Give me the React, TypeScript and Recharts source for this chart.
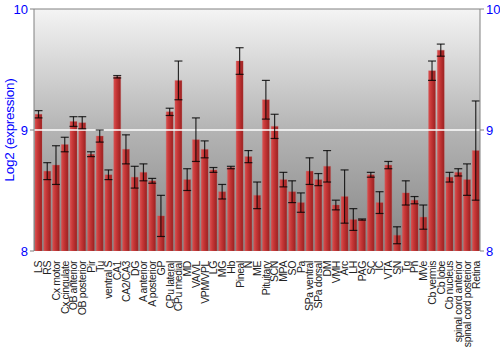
import { BarChart, Bar, XAxis, YAxis, CartesianGrid, ReferenceLine, ErrorBar } from 'recharts';

const regions = [
  'LS', 'RS', 'Cx motor', 'Cx cingulate', 'OB anterior', 'OB posterior', 'Pir', 'Tu', 'ventral S', 'CA1',
  'CA2/CA3', 'DG', 'A anterior', 'A posterior', 'GP', 'CPu lateral', 'CPu medial', 'MD', 'VA/VL', 'VPM/VPL',
  'LG', 'MG', 'Hb', 'Pineal', 'N', 'ME', 'Pituitary', 'SCN', 'MPA', 'SO',
  'Pa', 'SPa ventral', 'SPa dorsal', 'DM', 'VMH', 'Arc', 'LH', 'PAG', 'SC', 'IC',
  'VTA', 'SN', 'Tg', 'Pn', 'MVe', 'Cb vermis', 'Cb lobe', 'Cb nucleus', 'spinal cord anterior', 'spinal cord posterior',
  'Retina',
];

const expression = [
  9.13, 8.66, 8.71, 8.88, 9.07, 9.06, 8.80, 8.95, 8.63, 9.44,
  8.84, 8.61, 8.65, 8.58, 8.29, 9.15, 9.41, 8.59, 8.92, 8.84,
  8.67, 8.49, 8.69, 9.57, 8.78, 8.46, 9.25, 9.03, 8.59, 8.49,
  8.40, 8.66, 8.59, 8.70, 8.38, 8.45, 8.26, 8.26, 8.63, 8.40,
  8.71, 8.13, 8.48, 8.42, 8.28, 9.49, 9.66, 8.61, 8.65, 8.59,
  8.83,
];

const stdErr = [
  0.03, 0.07, 0.16, 0.06, 0.04, 0.05, 0.02, 0.05, 0.04, 0.01,
  0.12, 0.09, 0.07, 0.02, 0.17, 0.03, 0.16, 0.09, 0.18, 0.07,
  0.02, 0.06, 0.01, 0.11, 0.05, 0.11, 0.16, 0.10, 0.06, 0.09,
  0.08, 0.11, 0.05, 0.13, 0.04, 0.22, 0.09, 0.005, 0.02, 0.09,
  0.03, 0.07, 0.10, 0.03, 0.10, 0.08, 0.05, 0.04, 0.03, 0.13,
  0.41,
];

const yTicks = [8, 9, 10];

const data = regions.map((name, i) => ({ name, value: expression[i], err: stdErr[i] }));

const FONT = '"Liberation Sans", Arial, sans-serif';

function RotatedTick(props: any) {
  const { x, y, payload } = props;
  return (
    <text x={x} y={y + 2} transform={`rotate(-90, ${x}, ${y + 2})`} textAnchor="end" dy={4}
      fontSize={10.5} letterSpacing={-0.4} fontFamily={FONT} fill="#222">
      {payload.value}
    </text>
  );
}

function YLabel(props: any) {
  const { viewBox } = props;
  const cy = viewBox.y + viewBox.height / 2;
  return (
    <text x={14} y={cy} transform={`rotate(-90, 14, ${cy})`} textAnchor="middle"
      fontSize={13.5} letterSpacing={-0.3} fontFamily={FONT} fill="#0000ff">
      Log2 (expression)
    </text>
  );
}

export default function App() {
  return (
    <div style={{ position: 'absolute', left: 0, top: 0, background: '#fff' }}>
      <BarChart width={500} height={350} data={data} margin={{ top: 9, right: 0, bottom: 0, left: 0 }}
        barCategoryGap={1}>
        <defs>
          <linearGradient id="bg" x1="0" y1="0" x2="0" y2="1">
            <stop offset="0%" stopColor="#f4f4f4" />
            <stop offset="50%" stopColor="#b4b4b4" />
            <stop offset="100%" stopColor="#858585" />
          </linearGradient>
          <linearGradient id="bar" x1="0" y1="0" x2="1" y2="0">
            <stop offset="0%" stopColor="#d85050" />
            <stop offset="35%" stopColor="#c83838" />
            <stop offset="100%" stopColor="#9a2020" />
          </linearGradient>
        </defs>
        <CartesianGrid horizontal={false} vertical={false} fill="url(#bg)" />
        <ReferenceLine yAxisId="l" y={9} stroke="#ffffff" strokeWidth={1.5} />
        <ReferenceLine yAxisId="l" y={10} stroke="#808080" strokeWidth={1} />
        <XAxis dataKey="name" interval={0} height={99} tick={<RotatedTick />} tickLine={false}
          axisLine={false} />
        <YAxis yAxisId="l" domain={[8, 10]} ticks={yTicks} allowDataOverflow width={34} tickSize={4}
          stroke="#808080" tick={{ fill: '#0000ff', fontSize: 13, fontFamily: FONT }}
          label={<YLabel />} />
        <YAxis yAxisId="r" orientation="right" domain={[8, 10]} ticks={yTicks} allowDataOverflow width={20}
          tickSize={4} stroke="#808080" tick={{ fill: '#0000ff', fontSize: 13, fontFamily: FONT }} />
        <Bar yAxisId="l" dataKey="value" fill="url(#bar)" stroke="#d06060" strokeOpacity={0.5} strokeWidth={0.5}
          isAnimationActive={false}>
          <ErrorBar dataKey="err" width={4} stroke="#000" strokeOpacity={0.8} strokeWidth={1.2} />
        </Bar>
      </BarChart>
    </div>
  );
}
